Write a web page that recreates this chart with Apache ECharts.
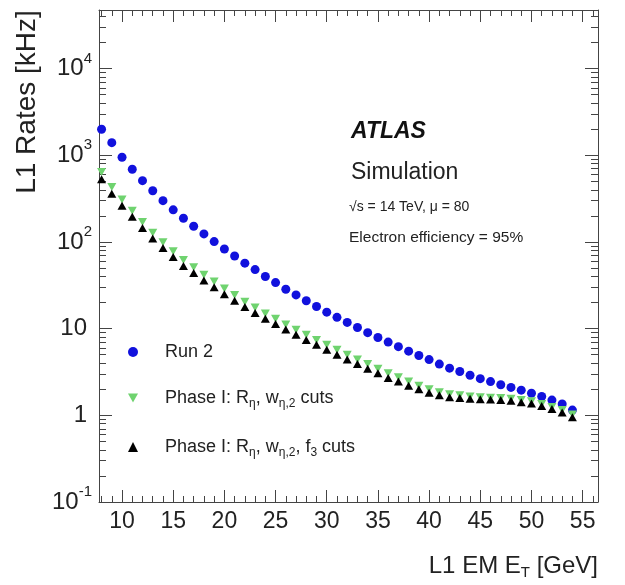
<!DOCTYPE html>
<html>
<head>
<meta charset="utf-8">
<title>L1 rates</title>
<script src="https://cdn.jsdelivr.net/npm/echarts@6/dist/echarts.min.js"></script>
<style>
html,body{margin:0;padding:0;background:#fff;}
#main{width:625px;height:585px;}
</style>
</head>
<body>
<div id="main"></div>
<script>
/* L1 EM ET threshold [GeV] */
var arrEt = [8,9,10,11,12,13,14,15,16,17,18,19,20,21,22,23,24,25,26,27,28,29,30,31,
             32,33,34,35,36,37,38,39,40,41,42,43,44,45,46,47,48,49,50,51,52,53,54];

/* Run 2 rates [kHz] */
var arrRun2 = [2000,1400,950,690,510,390,300,235,188,152,124,101,83,69,57,48,40,34,28.5,24.5,21,18,15.5,13.5,
               11.8,10.3,9.0,7.9,7.0,6.2,5.5,4.9,4.4,3.9,3.5,3.2,2.9,2.65,2.45,2.25,2.1,1.95,1.8,1.65,1.5,1.35,1.15];

/* Phase I: R_eta, w_eta2 cuts */
var arrPhase1 = [640,430,310,230,170,128,99,78,62,51,42,35,29,24.5,20.5,17.5,15,13,11.2,9.7,8.5,7.4,6.5,5.7,
                 5.0,4.4,3.9,3.45,3.05,2.75,2.45,2.2,2.0,1.85,1.75,1.7,1.65,1.62,1.6,1.58,1.55,1.5,1.45,1.35,1.25,1.15,1.02];

/* Phase I: R_eta, w_eta2, f3 cuts */
var arrPhase1F3 = [530,360,262,195,145,110,85,67,53,44,36,30,25,21,17.8,15.2,13,11.3,9.8,8.5,7.4,6.5,5.7,5.0,
                   4.4,3.9,3.45,3.05,2.7,2.45,2.2,2.0,1.82,1.7,1.62,1.58,1.55,1.53,1.52,1.5,1.47,1.42,1.37,1.28,1.18,1.08,0.95];

/* tick positions */
var arrXMajor = [10,15,20,25,30,35,40,45,50,55];
var arrXMinor = [8,9,11,12,13,14,16,17,18,19,21,22,23,24,26,27,28,29,31,32,33,34,36,37,38,39,41,42,43,44,46,47,48,49,51,52,53,54,56];
var arrYMajor = [0.1,1,10,100,1000,10000];
var arrYMinor = [0.2,0.3,0.4,0.5,0.6,0.7,0.8,0.9,2,3,4,5,6,7,8,9,20,30,40,50,60,70,80,90,
                 200,300,400,500,600,700,800,900,2000,3000,4000,5000,6000,7000,8000,9000,20000,30000,40000];

var X_MIN = 7.75, X_MAX = 56.5;
var Y_MIN = 0.1, Y_MAX = 47500;

var FONT = 'Liberation Sans';
var INK = '#222';
var LINE = '#444';

function toPairs(y){
    var out = [];
    for(var i=0;i<arrEt.length;i++){
        out.push([arrEt[i], y[i]]);
    }
    return out;
}

function xAxisDef(grid, pos, ticks, len, withLabel){
    return {
        type:'value',
        gridIndex:grid,
        position:pos,
        min:X_MIN,
        max:X_MAX,
        axisLine:{show:grid===0, onZero:false, lineStyle:{color:LINE, width:1}},
        axisTick:{show:true, inside:true, length:len, customValues:ticks, lineStyle:{color:LINE, width:1}},
        axisLabel:{
            show:withLabel,
            customValues:ticks,
            margin:8,
            color:INK,
            fontFamily:FONT,
            fontSize:23
        },
        splitLine:{show:false}
    };
}

function yAxisDef(grid, pos, ticks, len, withLabel){
    return {
        type:'log',
        logBase:10,
        gridIndex:grid,
        position:pos,
        min:Y_MIN,
        max:Y_MAX,
        axisLine:{show:grid===0, onZero:false, lineStyle:{color:LINE, width:1}},
        axisTick:{show:true, inside:true, length:len, customValues:ticks, lineStyle:{color:LINE, width:1}},
        axisLabel:{
            show:withLabel,
            customValues:ticks,
            margin:7,
            formatter:function(v){
                var e = Math.round(Math.log(v)/Math.LN10);
                if(e===0) return '{n|1}';
                if(e===1) return '{n|10}';
                return '{b|10}{p|'+e+'}';
            },
            rich:{
                b:{fontSize:24, lineHeight:30, color:INK, fontFamily:FONT},
                n:{fontSize:24, lineHeight:30, color:INK, fontFamily:FONT, padding:[0,5,0,0]},
                p:{fontSize:15, lineHeight:30, color:INK, fontFamily:FONT, padding:[0,0,20,0]}
            }
        },
        splitLine:{show:false}
    };
}

var legendRich = {
    t:{fontSize:18, lineHeight:24, color:INK, fontFamily:FONT},
    s:{fontSize:12, lineHeight:24, color:INK, fontFamily:FONT, padding:[12,0,0,0]}
};
var legendText = {
    'Run 2':'{t|Run 2}',
    'Phase I: Rη, wη,2 cuts':'{t|Phase I: R}{s|η}{t|, w}{s|η,2}{t| cuts}',
    'Phase I: Rη, wη,2, f3 cuts':'{t|Phase I: R}{s|η}{t|, w}{s|η,2}{t|, f}{s|3}{t| cuts}'
};

function legendDef(name, top){
    return {
        data:[name],
        left:123,
        top:top,
        orient:'vertical',
        itemWidth:10,
        itemHeight:10,
        selectedMode:false,
        formatter:function(n){ return legendText[n]; },
        textStyle:{padding:[0,0,0,22], rich:legendRich}
    };
}

var chart = echarts.init(document.getElementById('main'), null, {renderer:'canvas'});

var option = {
    backgroundColor:'#fff',
    animation:false,
    grid:[
        {left:99, right:27, top:10, bottom:83},
        {left:99, right:27, top:10, bottom:83}
    ],
    xAxis:[
        xAxisDef(0,'bottom',arrXMajor,12,true),
        xAxisDef(0,'top',arrXMajor,12,false),
        xAxisDef(1,'bottom',arrXMinor,6,false),
        xAxisDef(1,'top',arrXMinor,6,false)
    ],
    yAxis:[
        yAxisDef(0,'left',arrYMajor,13,true),
        yAxisDef(0,'right',arrYMajor,13,false),
        yAxisDef(1,'left',arrYMinor,7,false),
        yAxisDef(1,'right',arrYMinor,7,false)
    ],
    legend:[
        legendDef('Run 2',338),
        legendDef('Phase I: Rη, wη,2 cuts',381),
        legendDef('Phase I: Rη, wη,2, f3 cuts',430)
    ],
    graphic:[
        {type:'text', x:27, y:102, rotation:Math.PI/2,
         style:{text:'L1 Rates [kHz]', fontSize:28, fontFamily:FONT, fill:INK, align:'center', verticalAlign:'middle'}},
        {type:'text', x:598, y:566,
         style:{text:'{t|L1 EM E}{s|T}{t| [GeV]}', align:'right', verticalAlign:'middle',
                rich:{t:{fontSize:24, lineHeight:30, fill:INK, fontFamily:FONT},
                      s:{fontSize:15, lineHeight:30, fill:INK, fontFamily:FONT, padding:[14,0,0,0]}}}},
        {type:'text', x:351, y:132,
         style:{text:'ATLAS', fontSize:23, fontWeight:'bold', fontStyle:'italic', fontFamily:FONT, fill:'#111', verticalAlign:'middle'}},
        {type:'text', x:351, y:173,
         style:{text:'Simulation', fontSize:23, fontFamily:FONT, fill:INK, verticalAlign:'middle'}},
        {type:'text', x:349, y:207,
         style:{text:'√s = 14 TeV, μ = 80', fontSize:14, fontFamily:FONT, fill:INK, verticalAlign:'middle'}},
        {type:'text', x:349, y:238,
         style:{text:'Electron efficiency = 95%', fontSize:15.5, fontFamily:FONT, fill:INK, verticalAlign:'middle'}}
    ],
    series:[
        {
            name:'Run 2',
            type:'scatter',
            xAxisIndex:0,
            yAxisIndex:0,
            symbol:'circle',
            symbolSize:9,
            itemStyle:{color:'#1111dd', opacity:1},
            data:toPairs(arrRun2)
        },
        {
            name:'Phase I: Rη, wη,2 cuts',
            type:'scatter',
            xAxisIndex:0,
            yAxisIndex:0,
            symbol:'path://M0,0 L10,0 L5,9 Z',
            symbolSize:[9,8],
            itemStyle:{color:'#6fd36f', opacity:1},
            data:toPairs(arrPhase1)
        },
        {
            name:'Phase I: Rη, wη,2, f3 cuts',
            type:'scatter',
            xAxisIndex:0,
            yAxisIndex:0,
            symbol:'triangle',
            symbolSize:[9,8],
            itemStyle:{color:'#000', opacity:1},
            data:toPairs(arrPhase1F3)
        }
    ]
};

chart.setOption(option);
</script>
</body>
</html>
